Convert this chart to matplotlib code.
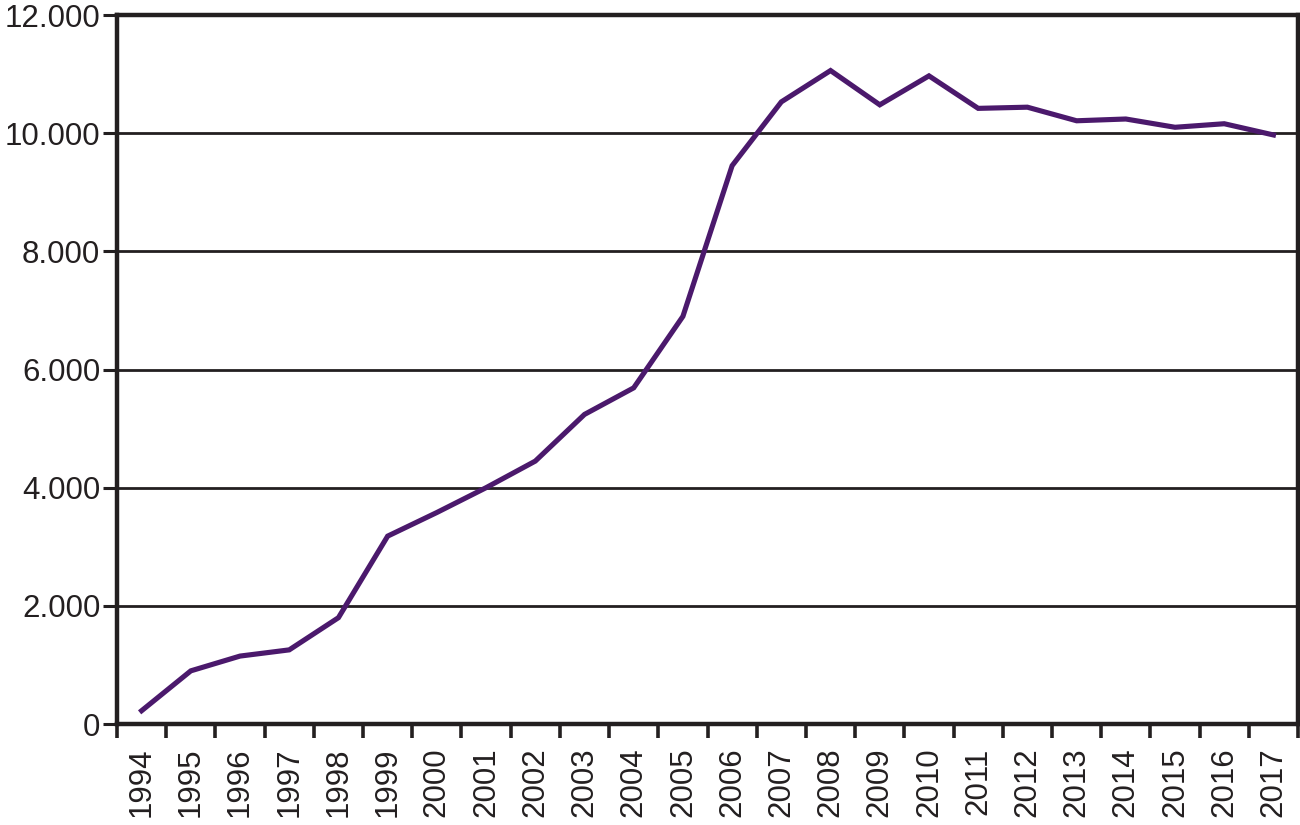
import matplotlib
matplotlib.use("Agg")
import matplotlib.pyplot as plt
import numpy as np
from matplotlib.ticker import FuncFormatter

plt.rcParams["font.family"] = ["Liberation Sans", "DejaVu Sans"]

years = [str(y) for y in range(1994, 2018)]
values = [225, 900, 1150, 1255, 1800, 3180, 3580, 4000, 4450, 5240, 5690, 6900,
          9450, 10530, 11060, 10480, 10970, 10420, 10440, 10210, 10240, 10100,
          10160, 9970]
yticks = [0, 2000, 4000, 6000, 8000, 10000, 12000]

ink = "#231f20"
purple = "#4b196c"

fig = plt.figure(figsize=(13, 8.25), dpi=100)
ax = fig.add_axes([0.09, 0.1224, 0.9085, 0.8594])

x = np.arange(len(years))
ax.plot(x, values, "-", color=purple, lw=3.7, solid_joinstyle="miter", zorder=3)

ax.set_xlim(-0.5, len(years) - 0.5)
ax.set_ylim(0, 12000)

# boundary ticks (unlabelled) and centred year labels
ax.set_xticks(np.arange(len(years) + 1) - 0.5)
ax.set_xticklabels([])
ax.set_xticks(x, minor=True)
ax.set_xticklabels(years, minor=True, rotation=90, fontsize=22.5, color=ink)
ax.tick_params(axis="x", which="major", length=10, width=2.6, color=ink, direction="out")
ax.tick_params(axis="x", which="minor", length=0, pad=17)

ax.set_yticks(yticks)
ax.yaxis.set_major_formatter(FuncFormatter(lambda v, p: f"{int(v):,}".replace(",", ".")))
ax.tick_params(axis="y", length=10, width=2.2, color=ink, labelsize=22.5, labelcolor=ink, pad=2)

ax.grid(axis="y", color=ink, lw=2.0)
ax.set_axisbelow(True)
for s in ax.spines.values():
    s.set_color(ink)
    s.set_linewidth(3.2)

fig.savefig("out.png", dpi=100)
